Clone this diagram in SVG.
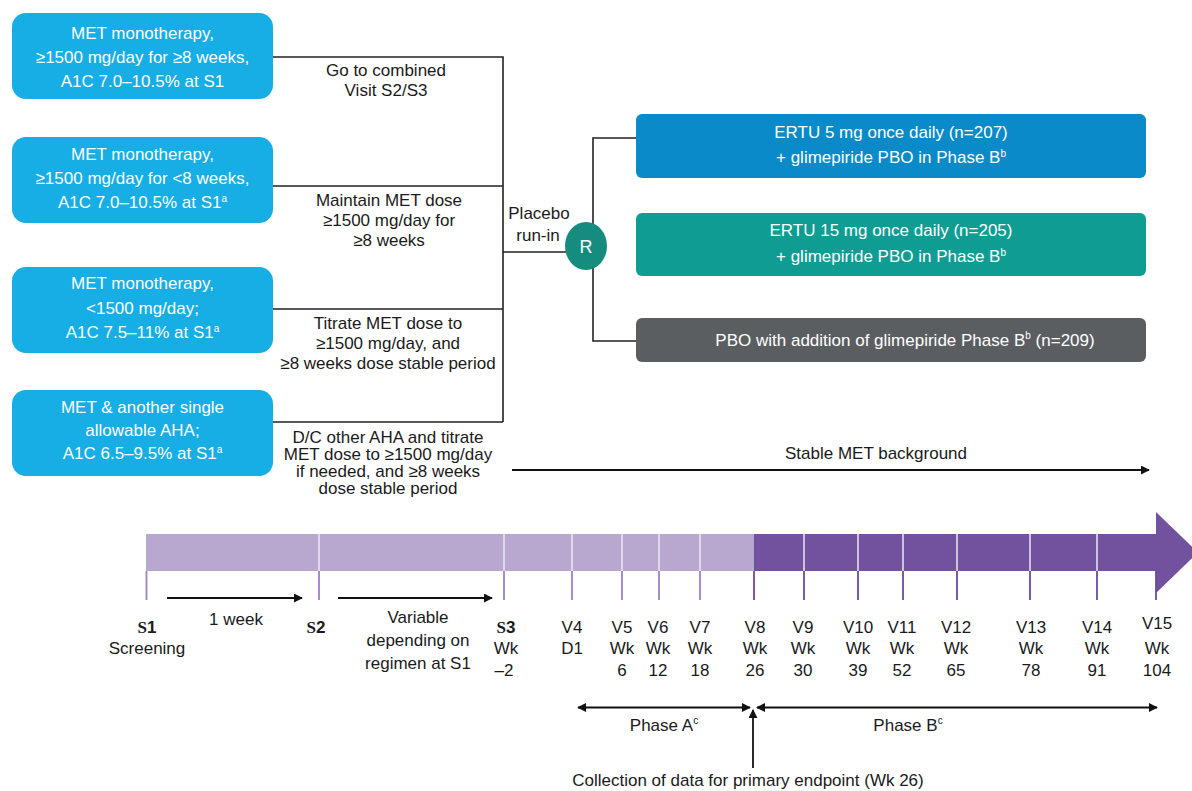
<svg xmlns="http://www.w3.org/2000/svg" width="1192" height="791" viewBox="0 0 1192 791">
<defs>
  <marker id="ah" viewBox="0 0 10 10" refX="9" refY="5" markerWidth="9" markerHeight="9" markerUnits="userSpaceOnUse" orient="auto-start-reverse">
    <path d="M0,0 L10,5 L0,10 z" fill="#111"/>
  </marker>
</defs>
<style>
  text{font-family:"Liberation Sans",Arial,Helvetica,sans-serif;font-size:17px;fill:#1a1a1a}
  .w{fill:#fff;text-anchor:middle}
  .c{text-anchor:middle}
  .sup{font-size:10px}
  .lbox{fill:#17ade5}
  .conn{fill:none;stroke:#222;stroke-width:1.6}
  .arr{fill:none;stroke:#111;stroke-width:1.8}
  .tickL{stroke:#9a82c3;stroke-width:1.8}
  .tickD{stroke:#6a4b9b;stroke-width:1.8}
  .div{stroke:#ebe6f3;stroke-width:1.5}
  .sb{font-family:"Liberation Serif","Times New Roman",serif;font-weight:bold}
  .nb{font-weight:bold}
</style>

<rect width="1192" height="791" fill="#fff"/>

<!-- connectors: entry criteria to placebo run-in, randomisation to arms -->
<g id="connectors">
  <path class="conn" d="M273,57 H503 V422 M273,186 H503 M273,309 H503 M273,422 H503 M503,252 H566"/>
  <path class="conn" d="M636,138 H593 V341 H636"/>
  <line class="arr" x1="512" y1="470" x2="1149" y2="470" marker-end="url(#ah)"/>
</g>

<!-- entry-criteria boxes -->
<g id="entry1">
  <rect class="lbox" x="12" y="13" width="261" height="86" rx="14"/>
  <text class="w" x="142.5" y="38.5">MET monotherapy,</text>
  <text class="w" x="142.5" y="62.5">≥1500 mg/day for ≥8 weeks,</text>
  <text class="w" x="142.5" y="86.5">A1C 7.0–10.5% at S1</text>
</g>
<g id="entry2">
  <rect class="lbox" x="12" y="137" width="261" height="86" rx="14"/>
  <text class="w" x="142.5" y="159.5">MET monotherapy,</text>
  <text class="w" x="142.5" y="184">≥1500 mg/day for &lt;8 weeks,</text>
  <text class="w" x="142.5" y="208">A1C 7.0–10.5% at S1<tspan class="sup" dy="-6">a</tspan></text>
</g>
<g id="entry3">
  <rect class="lbox" x="12" y="267" width="261" height="86" rx="14"/>
  <text class="w" x="142.5" y="289">MET monotherapy,</text>
  <text class="w" x="142.5" y="314">&lt;1500 mg/day;</text>
  <text class="w" x="142.5" y="338">A1C 7.5–11% at S1<tspan class="sup" dy="-6">a</tspan></text>
</g>
<g id="entry4">
  <rect class="lbox" x="12" y="390" width="261" height="86" rx="14"/>
  <text class="w" x="142.5" y="413">MET &amp; another single</text>
  <text class="w" x="142.5" y="436">allowable AHA;</text>
  <text class="w" x="142.5" y="459">A1C 6.5–9.5% at S1<tspan class="sup" dy="-6">a</tspan></text>
</g>

<!-- path labels -->
<g id="path-labels">
  <text class="c" x="386" y="76">Go to combined</text>
  <text class="c" x="386" y="96">Visit S2/S3</text>
  <text class="c" x="389" y="206">Maintain MET dose</text>
  <text class="c" x="389" y="226">≥1500 mg/day for</text>
  <text class="c" x="389" y="246">≥8 weeks</text>
  <text class="c" x="388" y="329">Titrate MET dose to</text>
  <text class="c" x="388" y="349">≥1500 mg/day, and</text>
  <text class="c" x="388" y="369">≥8 weeks dose stable period</text>
  <text class="c" x="388" y="443">D/C other AHA and titrate</text>
  <text class="c" x="388" y="460">MET dose to ≥1500 mg/day</text>
  <text class="c" x="388" y="477">if needed, and ≥8 weeks</text>
  <text class="c" x="388" y="494">dose stable period</text>
</g>

<g id="runin">
  <text class="c" x="539" y="219">Placebo</text>
  <text class="c" x="538" y="241">run-in</text>
</g>

<g id="randomisation">
  <ellipse cx="586" cy="246" rx="21" ry="24" fill="#168c7e"/>
  <text class="w" x="586" y="252.5" style="font-size:18px">R</text>
</g>

<!-- treatment arms -->
<g id="arm-ertu5">
  <rect x="636" y="114" width="510" height="64" rx="6" fill="#0a8ac8"/>
  <text class="w" x="891" y="138">ERTU 5 mg once daily (n=207)</text>
  <text class="w" x="891" y="163">+ glimepiride PBO in Phase B<tspan class="sup" dy="-6">b</tspan></text>
</g>
<g id="arm-ertu15">
  <rect x="636" y="213" width="510" height="63" rx="6" fill="#0f9d93"/>
  <text class="w" x="891" y="236">ERTU 15 mg once daily (n=205)</text>
  <text class="w" x="891" y="262">+ glimepiride PBO in Phase B<tspan class="sup" dy="-6">b</tspan></text>
</g>
<g id="arm-pbo">
  <rect x="636" y="318" width="510" height="44" rx="6" fill="#5b5e61"/>
  <text class="w" x="905" y="346">PBO with addition of glimepiride Phase B<tspan class="sup" dy="-7">b</tspan><tspan dy="7"> (n=209)</tspan></text>
</g>

<g id="stable-met">
  <text class="c" x="876" y="459">Stable MET background</text>
</g>

<!-- study timeline bar -->
<g id="timeline">
  <rect x="146" y="534" width="608" height="37" fill="#b8a8cf"/>
  <rect x="754" y="534" width="403" height="37" fill="#72519e"/>
  <polygon points="1156,512 1198,552.5 1156,593" fill="#72519e"/>
  <path class="div" d="M319,534 V571 M504,534 V571 M572,534 V571 M622,534 V571 M659,534 V571 M700,534 V571 M804,534 V571 M858,534 V571 M903,534 V571 M957,534 V571 M1030,534 V571 M1097,534 V571"/>
  <path class="tickL" d="M146.5,571 V600 M319,571 V600 M504,571 V600 M572,571 V600 M622,571 V600 M659,571 V600 M700,571 V600"/>
  <path class="tickD" d="M754,571 V600 M804,571 V600 M858,571 V600 M903,571 V600 M957,571 V600 M1030,571 V600 M1097,571 V600 M1156,571 V600"/>
</g>

<g id="screening-intervals">
  <line class="arr" x1="167" y1="598" x2="302" y2="598" marker-end="url(#ah)"/>
  <line class="arr" x1="338" y1="598" x2="492" y2="598" marker-end="url(#ah)"/>
  <text class="c" x="236" y="625">1 week</text>
  <text class="c" x="418" y="623">Variable</text>
  <text class="c" x="418" y="646">depending on</text>
  <text class="c" x="418" y="669">regimen at S1</text>
</g>

<!-- visit labels -->
<g id="visits">
  <text class="c" x="147" y="633"><tspan class="sb">S</tspan><tspan class="nb">1</tspan></text>
  <text class="c" x="147" y="654">Screening</text>
  <text class="c" x="316" y="633"><tspan class="sb">S</tspan><tspan class="nb">2</tspan></text>
  <text class="c" x="506" y="633"><tspan class="sb">S</tspan><tspan class="nb">3</tspan></text>
  <text class="c" x="506" y="654">Wk</text>
  <text class="c" x="504" y="676">–2</text>
  <text class="c" x="572" y="633">V4</text>
  <text class="c" x="572" y="654">D1</text>
  <text class="c" x="622" y="633">V5</text><text class="c" x="622" y="654">Wk</text><text class="c" x="622" y="676">6</text>
  <text class="c" x="658" y="633">V6</text><text class="c" x="658" y="654">Wk</text><text class="c" x="658" y="676">12</text>
  <text class="c" x="700" y="633">V7</text><text class="c" x="700" y="654">Wk</text><text class="c" x="700" y="676">18</text>
  <text class="c" x="755" y="633">V8</text><text class="c" x="755" y="654">Wk</text><text class="c" x="755" y="676">26</text>
  <text class="c" x="803" y="633">V9</text><text class="c" x="803" y="654">Wk</text><text class="c" x="803" y="676">30</text>
  <text class="c" x="858" y="633">V10</text><text class="c" x="858" y="654">Wk</text><text class="c" x="858" y="676">39</text>
  <text class="c" x="902" y="633">V11</text><text class="c" x="902" y="654">Wk</text><text class="c" x="902" y="676">52</text>
  <text class="c" x="956" y="633">V12</text><text class="c" x="956" y="654">Wk</text><text class="c" x="956" y="676">65</text>
  <text class="c" x="1031" y="633">V13</text><text class="c" x="1031" y="654">Wk</text><text class="c" x="1031" y="676">78</text>
  <text class="c" x="1097" y="633">V14</text><text class="c" x="1097" y="654">Wk</text><text class="c" x="1097" y="676">91</text>
  <text class="c" x="1157" y="629">V15</text><text class="c" x="1157" y="654">Wk</text><text class="c" x="1157" y="676">104</text>
</g>

<!-- study phases -->
<g id="phases">
  <line class="arr" x1="578" y1="707.5" x2="750" y2="707.5" marker-start="url(#ah)" marker-end="url(#ah)"/>
  <line class="arr" x1="757" y1="707.5" x2="1157" y2="707.5" marker-start="url(#ah)" marker-end="url(#ah)"/>
  <text class="c" x="664" y="731">Phase A<tspan class="sup" dy="-7">c</tspan></text>
  <text class="c" x="908" y="731">Phase B<tspan class="sup" dy="-7">c</tspan></text>
  <line class="arr" x1="753" y1="768" x2="753" y2="710" marker-end="url(#ah)"/>
  <text class="c" x="748" y="786">Collection of data for primary endpoint (Wk 26)</text>
</g>
</svg>
